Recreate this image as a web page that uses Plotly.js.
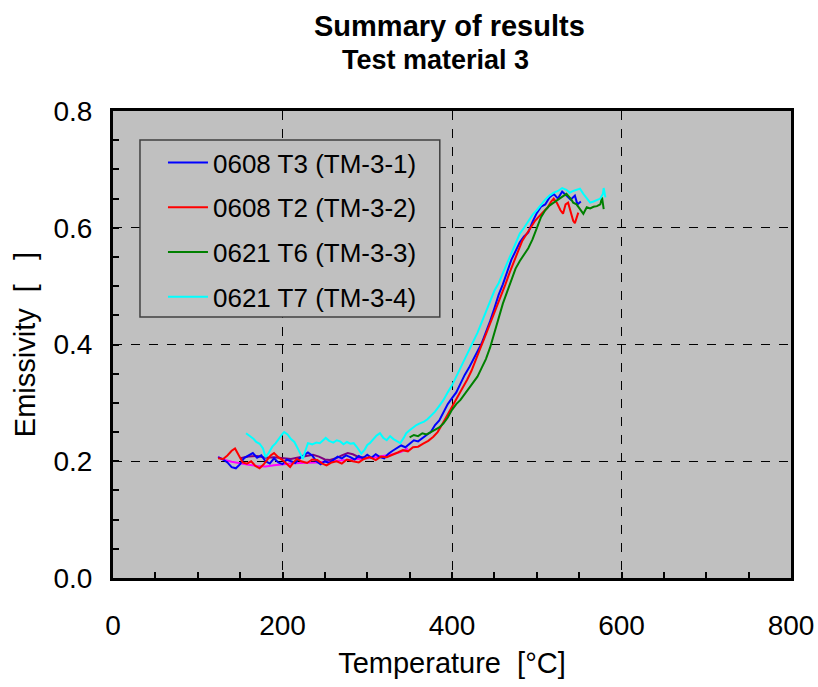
<!DOCTYPE html>
<html>
<head>
<meta charset="utf-8">
<script src="https://cdn.plot.ly/plotly-3.0.1.min.js"></script>
<style>html,body{margin:0;padding:0;background:#fff;}#chart{width:818px;height:687px;}</style>
</head>
<body>
<div id="chart"></div>
<script>
// Series names
const seriesNames = ["0608 T3 (TM-3-1)", "0608 T2 (TM-3-2)", "0621 T6 (TM-3-3)", "0621 T7 (TM-3-4)"];

// TM-3-1 (blue)
const t1 = [124,130,135,140,145,150,155,160,165,170,175,180,185,190,195,200,205,210,215,220,225,230,235,240,245,250,255,260,265,270,275,280,285,290,295,300,305,310,315,320,325,330,335,340,345,350,355,360,365,370,375,380,385,390,395,400,405,410,415,420,425,430,435,440,445,450,455,460,465,470,475,480,485,490,495,500,505,510,515,520,525,530,535,540,545,548,552];
const e1 = [0.207,0.203,0.198,0.190,0.188,0.195,0.206,0.210,0.214,0.206,0.210,0.200,0.196,0.205,0.198,0.195,0.203,0.200,0.197,0.205,0.210,0.215,0.210,0.200,0.195,0.200,0.197,0.202,0.208,0.205,0.210,0.207,0.203,0.209,0.205,0.211,0.206,0.212,0.207,0.205,0.213,0.218,0.222,0.227,0.224,0.230,0.236,0.234,0.240,0.245,0.250,0.262,0.270,0.283,0.298,0.308,0.318,0.333,0.348,0.360,0.373,0.388,0.402,0.420,0.440,0.462,0.485,0.503,0.523,0.545,0.560,0.575,0.585,0.592,0.610,0.625,0.636,0.640,0.652,0.658,0.650,0.662,0.655,0.648,0.655,0.640,0.645];

// TM-3-2 (red)
const t2 = [124,130,135,140,144,148,153,158,163,168,173,178,182,186,190,195,200,205,209,213,217,222,229,235,241,247,252,258,264,270,276,283,290,296,303,310,316,323,330,336,342,348,354,360,366,372,378,383,388,393,398,403,408,413,418,423,428,433,438,443,448,453,458,463,468,473,478,483,488,493,498,503,508,513,517,520,524,528,531,534,537,540,543,545,547,549];
const e2 = [0.205,0.204,0.210,0.218,0.222,0.212,0.198,0.196,0.200,0.192,0.188,0.195,0.202,0.210,0.214,0.207,0.202,0.195,0.190,0.198,0.204,0.200,0.197,0.203,0.202,0.196,0.193,0.198,0.200,0.196,0.203,0.200,0.198,0.204,0.207,0.202,0.208,0.207,0.212,0.215,0.219,0.217,0.224,0.225,0.230,0.235,0.242,0.250,0.262,0.275,0.288,0.300,0.315,0.328,0.340,0.355,0.372,0.392,0.410,0.428,0.447,0.465,0.483,0.503,0.523,0.543,0.560,0.578,0.590,0.600,0.612,0.620,0.628,0.635,0.645,0.650,0.642,0.630,0.624,0.640,0.643,0.625,0.612,0.608,0.618,0.626];

// TM-3-3 (green)
const t3 = [350,355,360,365,370,375,380,385,390,395,400,405,410,415,420,425,430,435,440,445,450,455,460,465,470,475,480,485,490,495,500,505,510,515,520,525,530,535,540,543,547,551,555,559,563,567,571,575,577,579];
const e3 = [0.241,0.245,0.243,0.248,0.246,0.250,0.255,0.258,0.265,0.275,0.288,0.298,0.305,0.315,0.325,0.335,0.345,0.360,0.375,0.395,0.420,0.445,0.470,0.490,0.512,0.530,0.543,0.555,0.565,0.580,0.600,0.618,0.630,0.638,0.643,0.648,0.652,0.658,0.650,0.643,0.640,0.632,0.624,0.635,0.633,0.636,0.637,0.640,0.652,0.632];

// TM-3-4 (cyan)
const t4 = [157,162,166,169,173,177,180,184,188,192,196,200,202,206,210,214,218,222,224,227,230,235,240,244,248,251,255,260,264,268,272,276,280,284,288,293,297,300,303,307,311,315,319,323,327,331,335,339,343,346,350,354,358,362,367,371,375,380,385,390,395,400,405,410,415,420,425,430,435,440,445,450,455,460,465,470,475,480,485,490,495,500,505,510,515,520,525,530,535,539,543,547,551,555,559,563,567,571,575,578,579,581];
const e4 = [0.248,0.243,0.238,0.233,0.230,0.222,0.207,0.215,0.225,0.231,0.240,0.247,0.250,0.246,0.238,0.233,0.222,0.210,0.204,0.218,0.231,0.229,0.232,0.231,0.236,0.240,0.235,0.232,0.236,0.234,0.229,0.233,0.230,0.231,0.224,0.213,0.220,0.228,0.231,0.238,0.244,0.248,0.240,0.236,0.243,0.238,0.234,0.231,0.240,0.248,0.253,0.258,0.262,0.265,0.268,0.272,0.278,0.285,0.295,0.305,0.318,0.330,0.345,0.360,0.375,0.392,0.405,0.420,0.438,0.455,0.475,0.492,0.505,0.522,0.538,0.555,0.572,0.590,0.600,0.612,0.622,0.630,0.640,0.648,0.655,0.660,0.663,0.668,0.665,0.660,0.663,0.665,0.667,0.658,0.650,0.643,0.645,0.648,0.650,0.658,0.668,0.652];

// Extra unlabelled curves (magenta, purple)
const t5 = [124,130,140,150,160,170,180,190,200,210,220,230,240,250,260,270,280,290,300,310,320,330,340,348];
const e5 = [0.207,0.203,0.199,0.196,0.194,0.192,0.191,0.193,0.195,0.196,0.197,0.197,0.198,0.199,0.200,0.201,0.202,0.204,0.205,0.207,0.209,0.212,0.216,0.222];
const t6 = [150,160,170,180,190,200,210,220,230,236,243,250,256,263,270,277,283,290,298];
const e6 = [0.205,0.208,0.209,0.206,0.207,0.206,0.204,0.207,0.210,0.211,0.208,0.203,0.202,0.205,0.210,0.214,0.212,0.207,0.207];

// Axis ticks
const xTicks = [0,200,400,600,800];
const yTicks = [0.0,0.2,0.4,0.6,0.8];

// Titles
const titleMain = "Summary of results";
const titleSub = "Test material 3";

const font = "Arial, 'Liberation Sans', sans-serif";
function tr(x, y, name, color, show, grp){
  return {x:x, y:y, name:name, type:'scatter', mode:'lines',
    line:{color:color, width:2}, showlegend:show, legendgroup:grp};
}
const data = [
  tr(t5, e5, 'extra-1', '#FF00FF', false, 'g5'),
  tr(t6, e6, 'extra-2', '#800080', false, 'g6'),
  tr(t1, e1, seriesNames[0], '#0000FF', true, 'g1'),
  tr(t2, e2, seriesNames[1], '#FF0000', true, 'g2'),
  tr(t3, e3, seriesNames[2], '#008000', true, 'g3'),
  tr(t4, e4, seriesNames[3], '#00FFFF', true, 'g4')
];
const axisCommon = {
  showline:true, mirror:true, linecolor:'#000', linewidth:3,
  ticks:'inside', ticklen:6, tickwidth:2, tickcolor:'#000',
  showgrid:true, gridcolor:'#000', griddash:'dash', gridwidth:1,
  zeroline:false, tickfont:{family:font, size:28, color:'#000'}
};
const layout = {
  width:818, height:687,
  margin:{l:113, r:27, t:111, b:109},
  paper_bgcolor:'#fff', plot_bgcolor:'#C0C0C0',
  font:{family:font, color:'#000'},
  xaxis:Object.assign({}, axisCommon, {
    range:[0,800], tickvals:xTicks, ticktext:xTicks.map(String),
    minor:{dtick:50, ticks:'inside', ticklen:6, tickwidth:2, tickcolor:'#000', showgrid:false},
    ticklabelstandoff:20,
    title:{text:'Temperature\u00a0\u00a0[°C]', font:{family:font, size:29, color:'#000'}, standoff:14}
  }),
  yaxis:Object.assign({}, axisCommon, {
    range:[0,0.8], tickvals:yTicks, ticktext:yTicks.map(v=>v.toFixed(1)),
    minor:{dtick:0.05, ticks:'inside', ticklen:6, tickwidth:2, tickcolor:'#000', showgrid:false},
    ticklabelstandoff:12,
    title:{text:'Emissivity\u00a0\u00a0[\u00a0\u00a0\u00a0]', font:{family:font, size:29, color:'#000'}, standoff:10}
  }),
  annotations:[
    {text:'<b>'+titleMain+'</b>', xref:'paper', yref:'paper', x:0.4956, y:1.182, xanchor:'center', yanchor:'middle',
     showarrow:false, font:{family:font, size:29, color:'#000'}},
    {text:'<b>'+titleSub+'</b>', xref:'paper', yref:'paper', x:0.475, y:1.109, xanchor:'center', yanchor:'middle',
     showarrow:false, font:{family:font, size:27, color:'#000'}}
  ],
  shapes:[
    {type:'rect', xref:'paper', yref:'paper', x0:0.0398, x1:0.482, y0:0.559, y1:0.938,
     fillcolor:'#C0C0C0', line:{color:'#404040', width:1.5}, layer:'above'}
  ],
  legend:{x:0.0737, y:0.94, xanchor:'left', yanchor:'top',
    bgcolor:'rgba(0,0,0,0)', borderwidth:0,
    font:{family:font, size:26, color:'#000'},
    traceorder:'grouped', tracegroupgap:8, itemwidth:40},
  showlegend:true
};
Plotly.newPlot('chart', data, layout, {displayModeBar:false, staticPlot:true});
</script>
</body>
</html>
